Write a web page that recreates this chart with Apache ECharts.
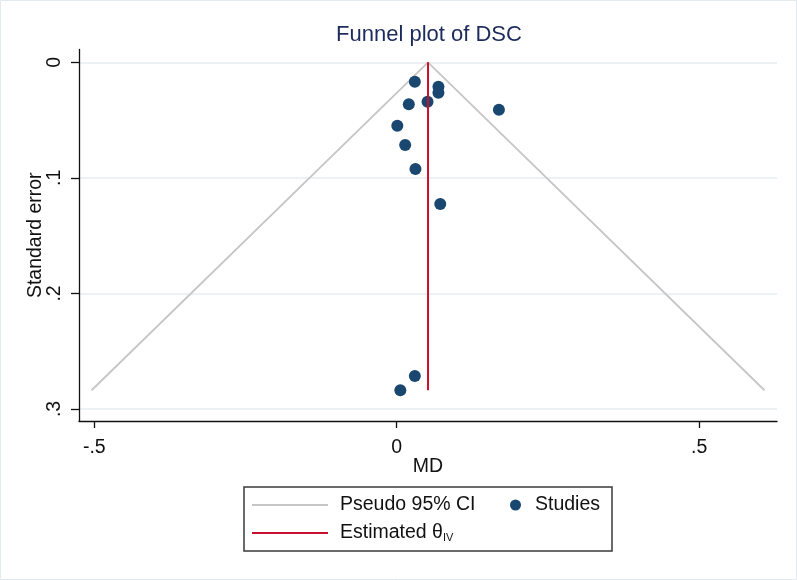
<!DOCTYPE html>
<html>
<head>
<meta charset="utf-8">
<script src="https://cdn.jsdelivr.net/npm/echarts@6/dist/echarts.min.js"></script>
<style>
  html, body { margin: 0; padding: 0; background: #fff; }
  #myChart1 { width: 797px; height: 580px; }
</style>
</head>
<body>
<div id="myChart1"></div>
<script>
// study effects (MD) and their standard errors
var studyMD = [0.030, 0.069, 0.069, 0.020, 0.051, 0.169, 0.001, 0.014, 0.031, 0.072, 0.030, 0.006];
var studySE = [0.0168, 0.0211, 0.0263, 0.0363, 0.0341, 0.0410, 0.0549, 0.0716, 0.0923, 0.1226, 0.2714, 0.2838];
var thetaIV = 0.0518;
var xTicks = [-0.5, 0, 0.5];
var yTicks = [0, 0.1, 0.2, 0.3];

var seMax = Math.max.apply(null, studySE);
var funnel = [
  [thetaIV - 1.96 * seMax, seMax],
  [thetaIV, 0],
  [thetaIV + 1.96 * seMax, seMax]
];
var points = studyMD.map(function (v, i) { return [v, studySE[i]]; });

function stataNum(v) {
  if (v === 0) return "0";
  var s = String(Math.abs(+v.toFixed(3))).replace(/^0/, "");
  return (v < 0 ? "-" : "") + s;
}

var font = "'Liberation Sans', Arial, sans-serif";
var chartDom = document.getElementById("myChart1");
var myChart = echarts.init(chartDom);
var option;

option = {
  backgroundColor: "#fff",
  animation: false,
  textStyle: { fontFamily: font },
  title: {
    text: "Funnel plot of DSC",
    left: 424,
    top: 19,
    textAlign: "center",
    textStyle: { fontFamily: font, fontSize: 22, fontWeight: "normal", color: "#1c2b5c" }
  },
  grid: { left: 79, right: 20, top: 49.5, bottom: 159 },
  xAxis: {
    type: "value",
    min: -0.5253,
    max: 0.6288,
    name: "MD",
    nameLocation: "middle",
    nameGap: 36,
    nameMoveOverlap: false,
    nameTextStyle: { fontFamily: font, fontSize: 19.5, color: "#111" },
    axisLine: { onZero: false, lineStyle: { color: "#111", width: 1.3 } },
    axisTick: { customValues: xTicks, length: 7, lineStyle: { color: "#111", width: 1.3 } },
    axisLabel: { customValues: xTicks, margin: 17, fontSize: 19.5, color: "#111", formatter: stataNum },
    splitLine: { show: false }
  },
  yAxis: {
    type: "value",
    inverse: true,
    min: -0.0111,
    max: 0.3104,
    name: "Standard error",
    nameLocation: "middle",
    nameGap: 33,
    nameMoveOverlap: false,
    nameTextStyle: { fontFamily: font, fontSize: 19.5, color: "#111" },
    axisLine: { show: true, onZero: false, lineStyle: { color: "#111", width: 1.3 } },
    axisTick: { show: true, customValues: yTicks, length: 8, lineStyle: { color: "#111", width: 1.3 } },
    axisLabel: { customValues: yTicks, rotate: 90, margin: 14, fontSize: 19.5, color: "#111", formatter: stataNum },
    splitLine: { show: true, lineStyle: { color: "#e6eef0", width: 1.6 } }
  },
  legend: [
    {
      data: [
        { name: "Pseudo 95% CI", icon: "rect" },
        { name: "Estimated θIV", icon: "rect" }
      ],
      orient: "vertical",
      left: 252,
      top: 495,
      padding: 0,
      itemGap: 8,
      itemWidth: 76,
      itemHeight: 2,
      textStyle: {
        fontFamily: font, fontSize: 19.5, color: "#111", lineHeight: 20, padding: [0, 0, 0, 7],
        rich: {
          sub: { fontSize: 11, fontFamily: font, color: "#111", padding: [9, 0, 0, 0] }
        }
      },
      formatter: function (name) {
        return name === "Estimated θIV" ? "Estimated θ{sub|IV}" : name;
      }
    },
    {
      data: ["Studies"],
      left: 510,
      top: 495,
      padding: 0,
      icon: "circle",
      itemWidth: 11,
      itemHeight: 11,
      textStyle: { fontFamily: font, fontSize: 19.5, color: "#111", lineHeight: 20, padding: [0, 0, 0, 9] }
    }
  ],
  graphic: [
    {
      type: "rect",
      shape: { x: 244, y: 487, width: 368, height: 64 },
      style: { fill: "none", stroke: "#3a3a3a", lineWidth: 1.5 },
      silent: true
    },
    {
      type: "rect",
      shape: { x: 0.5, y: 0.5, width: 796, height: 579 },
      style: { fill: "none", stroke: "#e3eaef", lineWidth: 1 },
      silent: true
    }
  ],
  series: [
    {
      name: "Pseudo 95% CI",
      type: "line",
      data: funnel,
      symbol: "none",
      lineStyle: { color: "#c6c6c6", width: 1.8 },
      itemStyle: { color: "#c6c6c6" },
      z: 2
    },
    {
      name: "Studies",
      type: "scatter",
      data: points,
      symbolSize: 12,
      itemStyle: { color: "#1a476f", opacity: 1 },
      z: 3
    },
    {
      name: "Estimated θIV",
      type: "line",
      data: [[thetaIV, 0], [thetaIV, seMax]],
      symbol: "none",
      lineStyle: { color: "#c8102e", width: 2 },
      itemStyle: { color: "#c8102e" },
      z: 4
    }
  ]
};

option && myChart.setOption(option);
</script>
</body>
</html>
